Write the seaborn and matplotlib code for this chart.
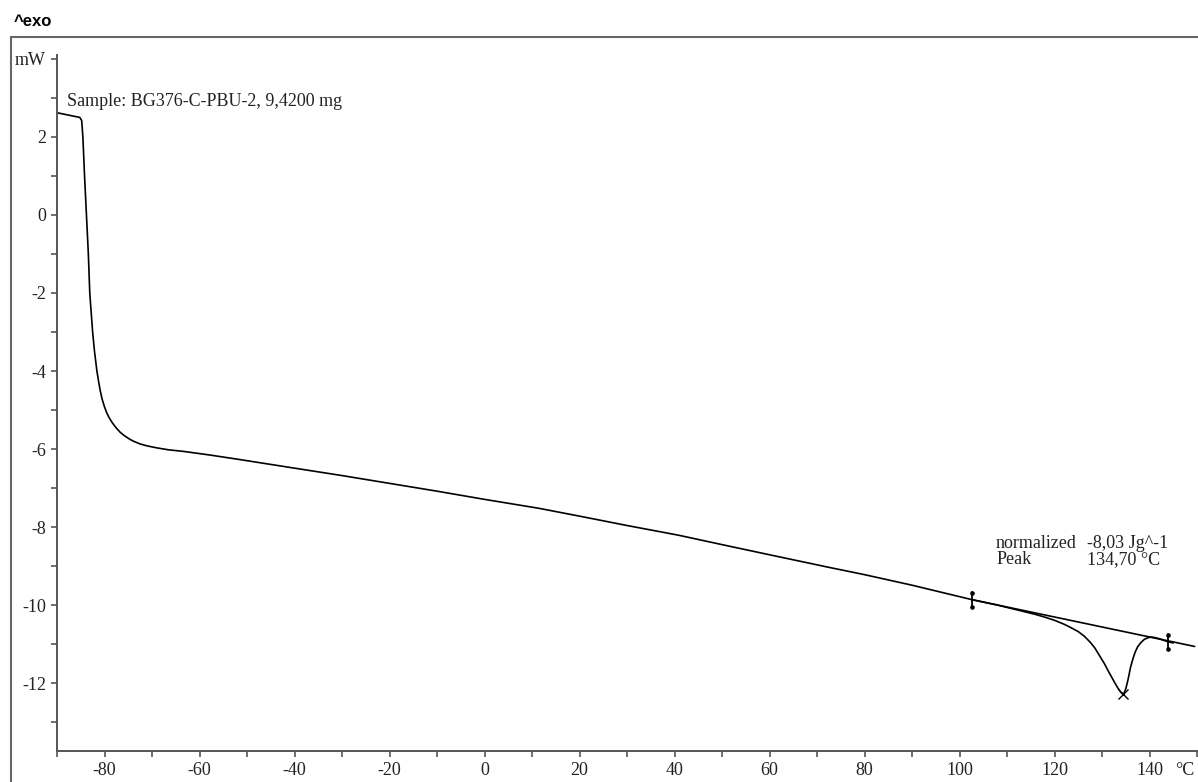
import numpy as np
import pandas as pd
import matplotlib
matplotlib.use("Agg")
import matplotlib.pyplot as plt
from matplotlib.lines import Line2D
import seaborn as sns

# ---- data ----
temperature = [-90, -85.2, -84.8, -84.55, -84.2, -83.8, -83.4, -83.1, -82.8, -82.5,
               -82.1, -81.6, -81.2, -80.9, -80.5, -80.0, -79.5, -79.0, -78.4, -77.6,
               -76.7, -75.8, -74.8, -73.9, -72.5, -71.0, -69.0, -66.5, -63.4, -58,
               -51.5, -40, -30, -20, -10, 0, 11.5, 20, 30, 40.9,
               50, 60, 72.4, 80, 90, 102.6, 108, 113.7, 116, 118,
               120, 122, 123.5, 125, 126.3, 127.5, 128.5, 129.5, 130.5, 131.5,
               132.5, 133.3, 134.0, 134.5, 135.0, 135.5, 136.0, 136.5, 137.0, 137.5,
               138.2, 138.9, 139.6, 140.3, 141, 142, 143.9, 145]
heat_flow = [2.62, 2.50, 2.42, 2.0, 1.0, 0.0, -1.0, -2.0, -2.5, -3.0,
             -3.5, -4.0, -4.3, -4.5, -4.72, -4.92, -5.08, -5.2, -5.32, -5.45,
             -5.57, -5.66, -5.74, -5.8, -5.87, -5.92, -5.97, -6.02, -6.06, -6.15,
             -6.27, -6.49, -6.68, -6.88, -7.08, -7.29, -7.52, -7.72, -7.96, -8.21,
             -8.45, -8.71, -9.03, -9.22, -9.49, -9.86, -10.0, -10.17, -10.24, -10.31,
             -10.39, -10.49, -10.58, -10.68, -10.8, -10.95, -11.1, -11.3, -11.5, -11.73,
             -11.95, -12.12, -12.24, -12.29, -12.15, -11.9, -11.6, -11.38, -11.2, -11.07,
             -10.96, -10.88, -10.84, -10.82, -10.83, -10.86, -10.94, -10.97]

baseline_T = [102.6, 149.5]
baseline_HF = [-9.86, -11.06]
limit_T = [102.6, 143.9]
limit_HF = [-9.86, -10.94]
peak_T = [134.5]
peak_HF = [-12.29]

y_major = [-12, -10, -8, -6, -4, -2, 0, 2]
y_labels = ["-12", "-10", "-8", "-6", "-4", "-2", "0", "2"]
x_major = [-80, -60, -40, -20, 0, 20, 40, 60, 80, 100, 120, 140]
x_labels = ["-80", "-60", "-40", "-20", "0", "20", "40", "60", "80", "100", "120", "140"]

sample_text = "Sample: BG376-C-PBU-2, 9,4200 mg"
result_names = "normalized\nPeak"
result_values = "-8,03 Jg^-1\n134,70 °C"
x_unit = "°C"
y_unit = "mW"

# ---- styling ----
sns.set_style("ticks")
plt.rcParams["font.family"] = ["Liberation Serif", "DejaVu Serif"]
FS = 13
TXT = "#222222"

fig = plt.figure(figsize=(11.98, 7.82), dpi=100)
ax = fig.add_axes([57 / 1198, 31 / 782, (1197 - 57) / 1198, (751 - 55) / 782])

curve = pd.DataFrame({"T": temperature, "HF": heat_flow})
base = pd.DataFrame({"T": baseline_T, "HF": baseline_HF})
sns.lineplot(data=curve, x="T", y="HF", ax=ax, color="black", lw=1.2, sort=False)
sns.lineplot(data=base, x="T", y="HF", ax=ax, color="black", lw=1.2, sort=False)

# integration limit markers
for t, h in zip(limit_T, limit_HF):
    ax.plot([t, t], [h - 0.2, h + 0.2], color="black", lw=1.3)
    ax.plot([t, t], [h - 0.18, h + 0.18], ls="none", marker="o", ms=2.3, color="black")
ax.plot(peak_T, peak_HF, ls="none", marker="x", ms=7, mew=1.0, color="black")

ax.set_xlim(-90, 150)
ax.set_ylim(-13.74, 4.1)

ax.set_xticks(x_major)
ax.set_xticklabels(x_labels)
ax.set_xticks(np.arange(-90, 151, 10), minor=True)
ax.set_yticks(y_major + [4])
ax.set_yticklabels(y_labels + [y_unit])
ax.set_yticks(np.arange(-13, 4, 2), minor=True)

for s in ["top", "right"]:
    ax.spines[s].set_visible(False)
for s in ["left", "bottom"]:
    ax.spines[s].set_color("#555555")
    ax.spines[s].set_linewidth(1.4)

ax.tick_params(which="both", direction="out", length=4, width=1.2, color="#555555",
               labelsize=FS, labelcolor=TXT, pad=4)
ax.set_xlabel("")
ax.set_ylabel("")

ax.annotate(x_unit, xy=(147.4, 0), xycoords=("data", "axes fraction"),
            xytext=(0, -8), textcoords="offset points", ha="center", va="top",
            fontsize=FS, color=TXT)
ax.text(-87.8, 2.9, sample_text, ha="left", va="center", fontsize=FS, color=TXT)
ax.text(107.7, -8.62, result_names, ha="left", va="center", fontsize=FS,
        color=TXT, linespacing=0.95)
ax.text(126.8, -8.62, result_values, ha="left", va="center", fontsize=FS,
        color=TXT, linespacing=0.95)

# outer frame and exo label
fy = (782 - 37) / 782
fx = 11 / 1198
fig.add_artist(Line2D([fx, fx], [0, fy], transform=fig.transFigure, color="#666666", lw=1.5))
fig.add_artist(Line2D([fx, 1], [fy, fy], transform=fig.transFigure, color="#666666", lw=1.5))
fig.text(14 / 1198, (782 - 22) / 782, "^exo", ha="left", va="center", fontsize=12,
         fontweight="bold", family=["Liberation Sans", "DejaVu Sans"], color="black")

fig.savefig("out.png", dpi=100)
